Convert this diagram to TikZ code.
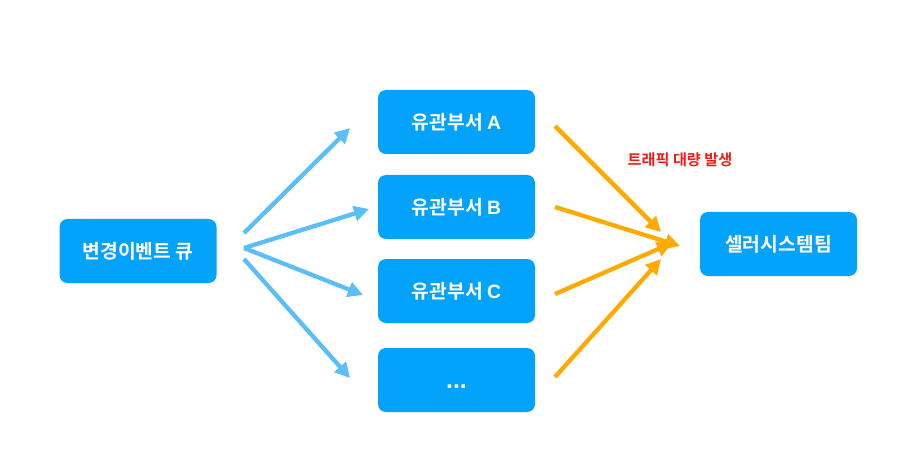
\documentclass[tikz,border=0pt]{standalone}
\usepackage{fontspec}
\newfontfamily\kr{Noto Sans CJK KR}[BoldFont={* Bold}]
\newfontfamily\lat{Liberation Sans}
\usetikzlibrary{arrows.meta}
\definecolor{boxblue}{RGB}{3,162,251}
\definecolor{arrblue}{RGB}{90,190,248}
\definecolor{arrorange}{RGB}{255,170,0}
\definecolor{labred}{RGB}{240,30,20}
\begin{document}
\begin{tikzpicture}[x=1pt,y=-1pt,
  box/.style={fill=boxblue,rounded corners=8pt,minimum width=157pt,minimum height=64pt,inner sep=0pt,text=white,font=\kr\bfseries\fontsize{19.3}{21}\selectfont},
  barrow/.style={draw=arrblue,line width=4.3pt,-{Triangle[length=15pt,width=15pt]}},
  oarrow/.style={draw=arrorange,line width=4.3pt,-{Triangle[length=15pt,width=15pt]}}]
\useasboundingbox (0,0) rectangle (922,468);
\node[box] (q) at (138,251) {변경이벤트 큐};
\node[box] (a) at (456.5,122) {유관부서 {\lat\bfseries A}};
\node[box] (b) at (456.5,207) {유관부서 {\lat\bfseries B}};
\node[box] (c) at (456.5,291) {유관부서 {\lat\bfseries C}};
\node[box] (d) at (456.5,380) {\raisebox{-8pt}[0pt][0pt]{\lat\bfseries\fontsize{25}{27}\selectfont ...}};
\node[box] (s) at (778.5,244) {셀러시스템팀};
\coordinate (q1) at (244,233);
\coordinate (q2) at (244,248);
\coordinate (q3) at (244,259);
\coordinate (ta) at (350,128);
\coordinate (tb) at (369,209);
\coordinate (tc) at (363,295);
\coordinate (td) at (350,378);
\draw[barrow] (q1) -- (ta);
\draw[barrow] (q2) -- (tb);
\draw[barrow] (q2) -- (tc);
\draw[barrow] (q3) -- (td);
\coordinate (oa) at (555,126);
\coordinate (ob) at (555,207);
\coordinate (oc) at (555,294);
\coordinate (od) at (555,377);
\coordinate (s1) at (661,232);
\coordinate (s2) at (680,246);
\coordinate (s3) at (672,243);
\coordinate (s4) at (661,259);
\draw[oarrow] (oa) -- (s1);
\draw[oarrow] (ob) -- (s2);
\draw[oarrow] (oc) -- (s3);
\draw[oarrow] (od) -- (s4);
\node[text=labred,font=\kr\bfseries\fontsize{15.2}{17}\selectfont,inner sep=0pt] (lab) at (680,160) {트래픽 대량 발생};
\end{tikzpicture}
\end{document}
